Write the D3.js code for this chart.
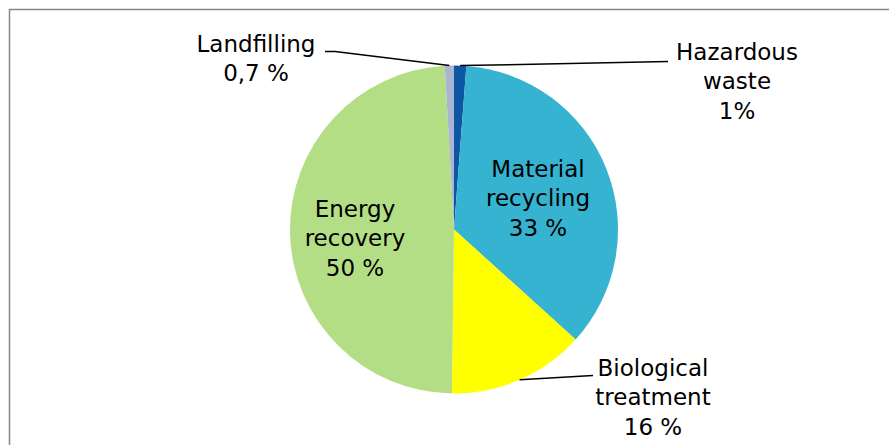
<!DOCTYPE html>
<meta charset="utf-8">
<style>
  body { margin: 0; background: #fff; }
  .lbl { font-family: "DejaVu Sans", Verdana, sans-serif; font-size: 23px; fill: #000; }
  .leader { fill: none; stroke: #000; stroke-width: 1.5px; }
</style>
<body>
<script src="https://d3js.org/d3.v7.min.js"></script>
<script>
// slice data, clockwise from 12 o'clock
var categories = ["Hazardous waste", "Material recycling", "Biological treatment", "Energy recovery", "Landfilling"];
var values = [1.2, 35.5, 13.5, 48.9, 0.9];
var colors = ["#0d56a4", "#35b3d0", "#ffff00", "#b3de85", "#a9b5d1"];
var labelLines = [
  ["Hazardous", "waste", "1%"],
  ["Material", "recycling", "33 %"],
  ["Biological", "treatment", "16 %"],
  ["Energy", "recovery", "50 %"],
  ["Landfilling", "0,7 %"]
];

var width = 889,
    height = 445;

var svg = d3.select("body").append("svg")
    .attr("width", width)
    .attr("height", height);

// chart frame (only left and top edges fall inside the window)
svg.append("rect")
    .attr("x", 9.5).attr("y", 9.5)
    .attr("width", width + 20).attr("height", height + 20)
    .attr("fill", "none")
    .attr("stroke", "#868686")
    .attr("stroke-width", 1.5);

var cx = 454, cy = 229.5, r = 164;

var pie = d3.pie().sort(null).value(function(d) { return d; });
var arc = d3.arc().innerRadius(0).outerRadius(r);

var arcs = pie(values);

var g = svg.append("g").attr("transform", "translate(" + cx + "," + cy + ")");

g.selectAll("path")
  .data(arcs)
  .enter().append("path")
    .attr("d", arc)
    .attr("fill", function(d, i) { return colors[i]; });

// label placement: centre x and first baseline, relative to pie centre
var labelPos = {
  "Hazardous waste": { x: 283, y: -170 },
  "Material recycling": { x: 84, y: -53 },
  "Biological treatment": { x: 199, y: 146 },
  "Energy recovery": { x: -99, y: -13 },
  "Landfilling": { x: -198, y: -178 }
};
// where the leader lines end (next to the label)
var leaderEnd = {
  "Hazardous waste": [[214, -168]],
  "Biological treatment": [[139, 146]],
  "Landfilling": [[-119, -178], [-129, -178]]
};
var lineH = 29.5;

arcs.forEach(function(d, i) {
  var name = categories[i];
  var p = labelPos[name];
  var t = g.append("text")
      .attr("class", "lbl")
      .attr("text-anchor", "middle");
  labelLines[i].forEach(function(s, k) {
    t.append("tspan")
      .attr("x", p.x)
      .attr("y", p.y + k * lineH)
      .text(s);
  });
  if (leaderEnd[name]) {
    var a = (d.startAngle + d.endAngle) / 2;
    var pts = [[Math.sin(a) * r, -Math.cos(a) * r]].concat(leaderEnd[name]);
    g.append("path")
      .attr("class", "leader")
      .attr("d", d3.line()(pts));
  }
});
</script>
</body>
